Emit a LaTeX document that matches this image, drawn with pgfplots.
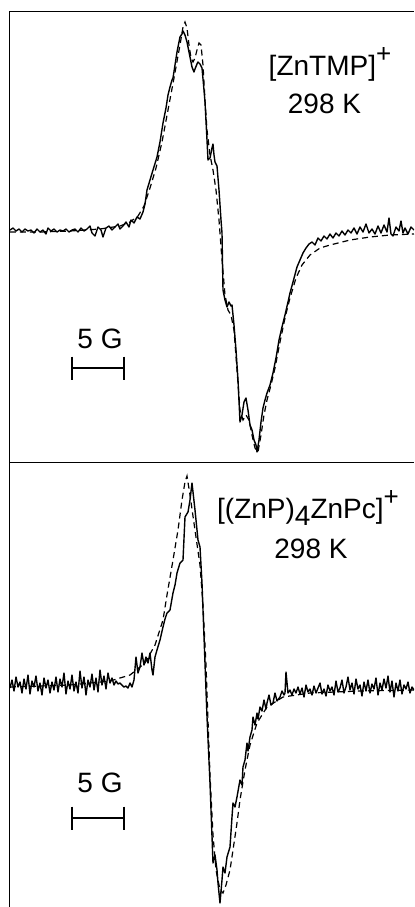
\documentclass[border=0pt]{standalone}
\usepackage{pgfplots}
\pgfplotsset{compat=1.18}
\usepackage{fontspec}
\setmainfont{Liberation Sans}

% x: field offset (scale bar 52 units = 5 G), y: signal (arb. units)
\pgfplotsset{
  epr/.style={
    scale only axis, width=202pt,
    xmin=0, xmax=404,
    axis x line*=top, axis y line*=left,
    xtick=\empty, ytick=\empty,
    axis line style={line width=0.5pt},
  },
  expt/.style={black, line width=0.7pt, line join=round},
  fit/.style={black, line width=0.6pt, dash pattern=on 3pt off 2pt},
}
\newcommand\charge[1]{\raisebox{0.45em}{\fontsize{13}{14}\selectfont #1}}
\newcommand\lowered[1]{\raisebox{-0.28em}{#1}}

\begin{document}
\begin{tikzpicture}
\useasboundingbox (0,0) rectangle (207pt,-453.5pt);

% ---- [ZnTMP]+ ----
\begin{axis}[epr, at={(5pt,-5.5pt)}, anchor=north west,
    height=225.5pt, ymin=-232, ymax=219]
  \addplot[expt] coordinates {
    (0,0)(3,2)(6,-1)(9,1)(12,-2)(15,1)(18,-1)(21,0)(24,-3)(27,1)(30,-2)(33,0)
    (36,-4)(38,2)(41,-1)(44,1)(47,-2)(50,0)(53,-1)(56,1)(59,-2)(62,0)(65,1)
    (68,-2)(71,2)(74,-1)(77,1)(80,4)(82,-3)(85,-6)(88,3)(91,0)(93,-7)(96,2)
    (99,4)(102,0)(105,3)(108,6)(110,1)(113,4)(116,8)(119,3)(121,10)(124,7)
    (127,13)(130,11)(133,18)(135,26)(137,40)(140,50)(143,60)(147,73)(150,88)
    (153,107)(156,122)(158,135)(160,143)(162,150)(163,152)(165,165)(167,178)
    (170,193)(172,196)(173,199)(175,195)(177,188)(179,178)(181,168)(182,163)
    (184,158)(185,161)(187,166)(188,168)(190,166)(192,162)(194,140)(195,128)
    (197,90)(198,70)(200,72)(202,82)(203,86)(204,75)(205,68)(207,64)(209,40)
    (211,10)(212,-3)(213,-60)(215,-70)(217,-77)(219,-72)(221,-76)(222,-75)
    (224,-95)(226,-120)(228,-150)(230,-192)(232,-185)(234,-172)(236,-168)
    (238,-180)(240,-195)(242,-200)(244,-210)(246,-215)(247,-222)(249,-210)
    (251,-192)(253,-178)(255,-170)(257,-163)(260,-155)(263,-143)(266,-128)
    (269,-110)(272,-97)(275,-85)(278,-72)(280,-63)(283,-52)(287,-37)(290,-30)
    (293,-23)(296,-18)(299,-14)(302,-12)(305,-15)(308,-8)(311,-11)(314,-6)
    (317,-9)(320,-4)(323,-8)(326,-3)(329,-6)(332,-1)(335,-5)(338,0)(341,-3)
    (344,2)(347,-4)(350,3)(353,-2)(356,6)(359,-3)(362,1)(365,-4)(368,4)
    (371,-3)(374,5)(377,-2)(379,12)(381,-4)(383,-6)(386,3)(389,-1)(391,9)
    (393,-3)(395,2)(398,-4)(401,3)(404,0)
  };
  \addplot[fit] coordinates {
    (0,-2)(30,-2)(60,-1)(90,1)(110,4)(120,8)(128,14)(134,24)(140,42)(146,62)
    (152,88)(158,120)(164,152)(170,185)(173,203)(175,208)(177,202)(179,185)
    (181,172)(183,168)(185,172)(187,180)(189,187)(191,185)(193,165)(195,130)
    (197,100)(200,75)(203,60)(206,40)(209,10)(212,-30)(215,-65)(218,-80)
    (221,-85)(224,-100)(227,-140)(230,-180)(233,-190)(236,-185)(239,-190)
    (242,-205)(245,-218)(248,-222)(251,-205)(254,-185)(257,-170)(261,-155)
    (265,-138)(270,-112)(275,-88)(280,-68)(286,-48)(292,-35)(300,-25)
    (310,-18)(320,-15)(340,-10)(360,-7)(380,-5)(404,-4)
  };
  \node[anchor=base, font=\fontsize{14}{16}\selectfont] at (axis cs:320,155) {[ZnTMP]\charge{+}};
  \node[anchor=base, font=\fontsize{14}{16}\selectfont] at (axis cs:314.5,117) {298 K};
  \node[anchor=base, font=\fontsize{14}{16}\selectfont] at (axis cs:90,-118) {5 G};
  \draw[line width=0.6pt] (axis cs:62,-138) -- (axis cs:114,-138);
  \draw[line width=0.6pt] (axis cs:62,-126.5) -- (axis cs:62,-149.5);
  \draw[line width=0.6pt] (axis cs:114,-126.5) -- (axis cs:114,-149.5);
\end{axis}

% ---- [(ZnP)4ZnPc]+ ----
\begin{axis}[epr, at={(5pt,-231pt)}, anchor=north west,
    height=222.5pt, ymin=-222, ymax=223]
  \addplot[expt] coordinates {
    (0,-3)(2,5)(4,-6)(6,8)(8,-2)(10,3)(12,-8)(14,6)(16,-4)(18,10)(20,-9)(22,4)
    (24,-2)(26,9)(28,-6)(30,2)(32,-10)(34,7)(36,-3)(38,5)(40,-8)(42,3)(44,-5)
    (46,8)(48,-7)(50,6)(52,-2)(54,12)(56,-9)(58,4)(60,-4)(62,10)(64,-6)(66,3)
    (68,-8)(70,14)(72,-3)(74,8)(76,-10)(78,5)(80,-2)(82,11)(84,-5)(86,7)
    (88,-7)(90,15)(92,0)(94,9)(96,-4)(98,12)(100,2)(102,7)(104,0)(106,4)
    (108,1)(110,2)(112,0)(114,-2)(116,-1)(118,-3)(120,2)(122,-2)(124,5)
    (126,28)(128,12)(130,18)(132,32)(134,20)(136,28)(138,22)(140,32)(142,15)
    (143,10)(145,28)(147,35)(150,45)(153,58)(155,66)(157,72)(160,75)(163,92)
    (165,100)(167,112)(170,122)(173,125)(175,168)(178,173)(180,185)(182,202)
    (185,175)(188,145)(190,138)(192,102)(197,-32)(200,-98)(203,-178)
    (205,-170)(207,-185)(208,-198)(210,-218)(212,-195)(213,-182)(215,-188)
    (217,-172)(220,-162)(222,-132)(223,-118)(225,-122)(227,-112)(230,-95)
    (232,-100)(233,-82)(235,-75)(237,-58)(238,-66)(240,-52)(242,-45)(243,-32)
    (245,-40)(247,-28)(248,-34)(250,-22)(252,-26)(254,-15)(256,-24)(257,-18)
    (259,-10)(261,-20)(263,-18)(265,-8)(267,-16)(270,-12)(272,-6)(274,-10)
    (275,-8)(276,13)(278,-8)(280,-5)(282,-10)(284,-4)(286,-8)(288,-2)(290,-9)
    (292,-3)(294,-12)(296,0)(298,-7)(300,-4)(302,-10)(304,-1)(306,-8)(308,-3)
    (310,2)(312,-9)(314,-4)(316,-11)(318,0)(320,-6)(322,-2)(324,-10)(326,4)
    (328,-7)(330,-3)(332,5)(334,-8)(336,-2)(338,8)(340,-5)(342,2)(344,-9)
    (346,6)(348,-4)(350,0)(352,-11)(354,3)(356,-6)(358,5)(360,-8)(362,1)
    (364,-4)(366,7)(368,-10)(370,2)(372,-5)(374,6)(376,-3)(378,9)(380,-7)
    (382,4)(384,-12)(386,2)(388,-6)(390,5)(392,-9)(394,0)(396,-4)(398,3)
    (400,-8)(402,-2)(404,-5)
  };
  \addplot[fit] coordinates {
    (0,-2)(60,0)(100,4)(120,10)(135,22)(145,40)(153,65)(157,90)(163,125)
    (168,155)(172,185)(175,203)(177,209)(180,190)(185,155)(190,120)(193,80)
    (196,20)(200,-90)(203,-150)(206,-185)(210,-205)(213,-208)(216,-200)
    (220,-185)(223,-165)(227,-138)(230,-115)(235,-85)(240,-60)(247,-38)
    (257,-22)(273,-12)(300,-8)(350,-6)(404,-5)
  };
  \node[anchor=base, font=\fontsize{14}{16}\selectfont] at (axis cs:298,167) {[(ZnP)\lowered{4}ZnPc]\charge{+}};
  \node[anchor=base, font=\fontsize{14}{16}\selectfont] at (axis cs:301,127) {298 K};
  \node[anchor=base, font=\fontsize{14}{16}\selectfont] at (axis cs:90,-107) {5 G};
  \draw[line width=0.6pt] (axis cs:62,-133) -- (axis cs:114,-133);
  \draw[line width=0.6pt] (axis cs:62,-121.5) -- (axis cs:62,-144.5);
  \draw[line width=0.6pt] (axis cs:114,-121.5) -- (axis cs:114,-144.5);
\end{axis}
\end{tikzpicture}
\end{document}
